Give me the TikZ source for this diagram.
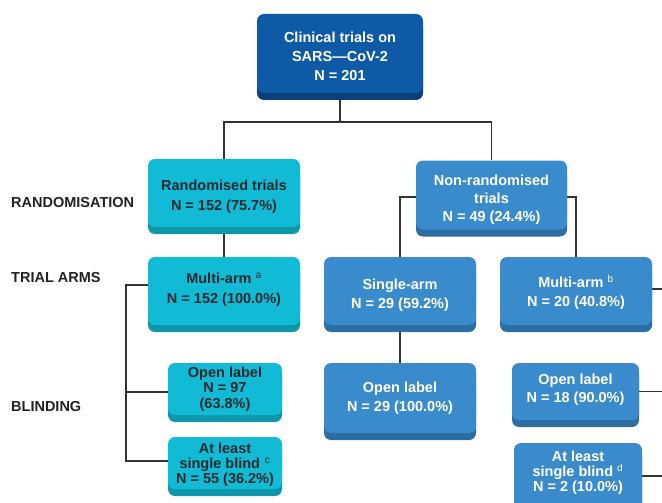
\documentclass[tikz,border=0pt]{standalone}
\usepackage{fontspec}
\setmainfont{Liberation Sans}
\usetikzlibrary{shadows,backgrounds}
\definecolor{topc}{HTML}{0E5AA7}
\definecolor{topd}{HTML}{0A3F7C}
\definecolor{cyanc}{HTML}{12BBD5}
\definecolor{cyand}{HTML}{0E97AB}
\definecolor{bluec}{HTML}{3A8BCB}
\definecolor{blued}{HTML}{2C6DA3}
\definecolor{txtdark}{HTML}{1F2A30}
\definecolor{linec}{HTML}{333333}
\definecolor{lblc}{HTML}{222222}
\tikzset{
  basebox/.style={rounded corners=7pt, inner sep=0pt},
  topbox/.style={basebox, fill=topc,
    general shadow={shadow xshift=0pt, shadow yshift=-7pt, fill=topd}},
  cyanbox/.style={basebox, fill=cyanc,
    general shadow={shadow xshift=0pt, shadow yshift=-7pt, fill=cyand}},
  bluebox/.style={basebox, fill=bluec,
    general shadow={shadow xshift=0pt, shadow yshift=-7pt, fill=blued}},
  btxt/.style={align=center, inner sep=0pt,
    font=\fontsize{14.5}{#1}\selectfont\bfseries},
  wtxt/.style={btxt=#1, text=white},
  dtxt/.style={btxt=#1, text=txtdark},
  conn/.style={draw=linec, line width=1.5pt},
  rowlbl/.style={anchor=west, inner sep=0pt, text=lblc,
    font=\fontsize{14.5}{17}\selectfont\bfseries}
}
\newcommand{\supr}[1]{\textsuperscript{\mdseries #1}}
\begin{document}
\begin{tikzpicture}[x=1pt,y=-1pt]
\useasboundingbox (0,0) rectangle (662,503);
\clip (0,0) rectangle (662,503);

% row labels
\node[rowlbl] (lr) at (11,203) {RANDOMISATION};
\node[rowlbl] (lt) at (11,278) {TRIAL ARMS};
\node[rowlbl] (lb) at (11,407) {BLINDING};

% boxes
\node[topbox, minimum width=166pt, minimum height=79pt,
  label={[name=top-t, wtxt=19, yshift=-3pt]center:{Clinical trials on\\SARS---CoV-2\\N = 201}}]
  (top) at (340,53.5) {};
\node[cyanbox, minimum width=152pt, minimum height=68pt,
  label={[name=rand-t, dtxt=20, yshift=-4pt]center:{Randomised trials\\N = 152 (75.7\%)}}]
  (rand) at (224,193) {};
\node[bluebox, minimum width=151pt, minimum height=69pt,
  label={[name=nonrand-t, wtxt=18, yshift=-4.5pt]center:{Non-randomised\\trials\\N = 49 (24.4\%)}}]
  (nonrand) at (491.5,195) {};
\node[cyanbox, minimum width=152pt, minimum height=68pt,
  label={[name=mar-t, dtxt=19.5, yshift=1.5pt]center:{Multi-arm \supr{a}\\N = 152 (100.0\%)}}]
  (mar) at (224,291) {};
\node[bluebox, minimum width=152pt, minimum height=68pt,
  label={[name=sa-t, wtxt=18.5, yshift=-4pt]center:{Single-arm\\N = 29 (59.2\%)}}]
  (sa) at (400,291) {};
\node[bluebox, minimum width=152pt, minimum height=68pt,
  label={[name=manr-t, wtxt=19, yshift=-1pt]center:{Multi-arm \supr{b}\\N = 20 (40.8\%)}}]
  (manr) at (576,291) {};
\node[cyanbox, minimum width=114pt, minimum height=52pt,
  label={[name=olr-t, dtxt=15.5]center:{Open label\\N = 97\\(63.8\%)}}]
  (olr) at (225,389) {};
\node[cyanbox, minimum width=114pt, minimum height=52pt,
  label={[name=alr-t, dtxt=15, yshift=-1.5pt]center:{At least\\single blind\,\,\supr{c}\\N = 55 (36.2\%)}}]
  (alr) at (225,463) {};
\node[bluebox, minimum width=152pt, minimum height=70pt,
  label={[name=olsa-t, wtxt=18.5]center:{Open label\\N = 29 (100.0\%)}}]
  (olsa) at (400,398) {};
\node[bluebox, minimum width=127pt, minimum height=57pt,
  label={[name=olnr-t, wtxt=18.5, yshift=2pt]center:{Open label\\N = 18 (90.0\%)}}]
  (olnr) at (575.5,391.5) {};
\node[bluebox, minimum width=128pt, minimum height=70pt,
  label={[name=alnr-t, wtxt=15, yshift=5pt]center:{At least\\single blind \supr{d}\\N = 2 (10.0\%)}}]
  (alnr) at (578,478) {};

\coordinate (j1) at (340,122);
\coordinate (lbus) at (126,461);
\coordinate (redge) at (662,0);

\begin{pgfonlayer}{background}
\draw[conn] (top.south) -- (j1);
\draw[conn] (rand.north) |- (j1) -| (nonrand.north);
\draw[conn] (rand.south) -- (mar.north);
\draw[conn] (sa.north) |- ([yshift=-2pt]nonrand.west);
\draw[conn] (manr.north) |- ([yshift=-2pt]nonrand.east);
\draw[conn] (sa.south) -- (olsa.north);
\draw[conn] ([yshift=6pt]mar.west) -| (lbus) -- (lbus -| alr.west);
\draw[conn] ([yshift=-3pt]olr.west) -- ([yshift=-3pt]olr.west -| lbus);
\draw[conn] ([yshift=2pt]manr.east) -- ([yshift=2pt]manr.east -| redge);
\draw[conn] (olnr.east) -- (olnr.east -| redge);
\draw[conn] ([yshift=2pt]alnr.east) -- ([yshift=2pt]alnr.east -| redge);
\end{pgfonlayer}
\end{tikzpicture}
\end{document}
